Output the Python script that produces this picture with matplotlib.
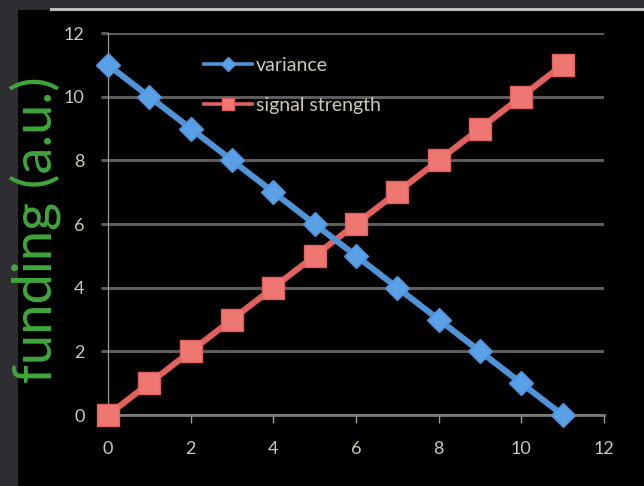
import matplotlib
matplotlib.use("Agg")
import matplotlib.pyplot as plt
from matplotlib.patches import Rectangle
from matplotlib.lines import Line2D

x_values = [0, 1, 2, 3, 4, 5, 6, 7, 8, 9, 10, 11]
variance = [11, 10, 9, 8, 7, 6, 5, 4, 3, 2, 1, 0]
signal_strength = [0, 1, 2, 3, 4, 5, 6, 7, 8, 9, 10, 11]
ticks = [0, 2, 4, 6, 8, 10, 12]

blue = "#4f93d8"
red = "#e2615d"
label_grey = "#cdc9b8"
grid_grey = "#5c5c5c"

plt.rcParams["font.family"] = ["Lato", "DejaVu Sans"]

fig = plt.figure(figsize=(6.44, 4.86), dpi=100)
fig.patch.set_facecolor("#2d2d32")

# black slide panel and the thin rule at its top
fig.add_artist(Rectangle((18 / 644, 0), 1, 476 / 486, transform=fig.transFigure,
                         facecolor="black", edgecolor="none", zorder=-5))
fig.add_artist(Line2D([51 / 644, 1], [477 / 486, 477 / 486], transform=fig.transFigure,
                      color="#bdbdbd", lw=2.2, zorder=-4))

ax = fig.add_axes([108 / 644, 71 / 486, 496 / 644, 382 / 486])
ax.set_zorder(2)
ax.set_facecolor("black")

ax.plot(x_values, variance, color=blue, lw=4.4, marker="D", markersize=12,
        markerfacecolor="#5aa0e6", markeredgecolor=blue, label="variance",
        clip_on=False, zorder=4)
ax.plot(x_values, signal_strength, color=red, lw=4.4, marker="s", markersize=15.5,
        markerfacecolor="#ef7773", markeredgecolor=red, label="signal strength",
        clip_on=False, zorder=3)

ax.set_xlim(0, 12)
ax.set_ylim(0, 12)
ax.set_xticks(ticks)
ax.set_yticks(ticks)

ax.grid(axis="y", color=grid_grey, lw=2.2)
ax.set_axisbelow(True)
for side in ["top", "right"]:
    ax.spines[side].set_visible(False)
ax.spines["left"].set_color("#9a9a9a")
ax.spines["left"].set_linewidth(0.9)
ax.spines["bottom"].set_color("#7a7a7a")
ax.spines["bottom"].set_linewidth(2)

ax.tick_params(axis="y", colors=label_grey, labelsize=13, length=5, width=2.2,
               pad=12, direction="out")
ax.tick_params(axis="x", colors=label_grey, labelsize=13, length=6, width=1,
               pad=13, direction="out")
ax.tick_params(axis="x", color="#9a9a9a")
ax.tick_params(axis="y", color=grid_grey)

fig.text(35 / 644, 256 / 486, "funding (a.u.)", rotation=90, color="#3fa83a",
         fontsize=39, ha="center", va="center", zorder=3)

leg = ax.legend(loc="upper left", bbox_to_anchor=(186 / 644, 447 / 486),
                bbox_transform=fig.transFigure, frameon=False, fontsize=14,
                labelspacing=1.2, handlelength=2.5, handletextpad=0.2,
                markerscale=0.6)
for text in leg.get_texts():
    text.set_color(label_grey)
for line in leg.get_lines():
    line.set_linewidth(2.6)

fig.savefig("out.png", dpi=100, facecolor=fig.get_facecolor())
